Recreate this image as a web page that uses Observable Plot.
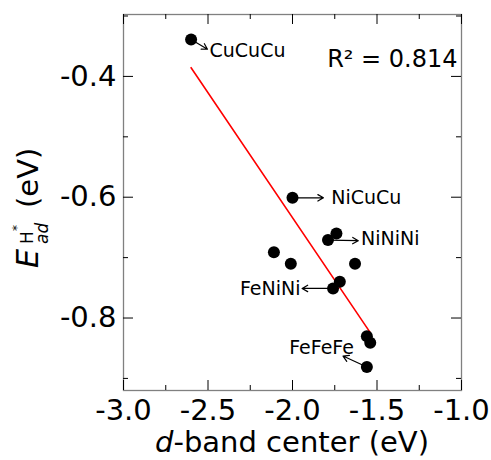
<!DOCTYPE html>
<html><head><meta charset="utf-8">
<script src="https://cdn.jsdelivr.net/npm/d3@7"></script>
<script src="https://cdn.jsdelivr.net/npm/@observablehq/plot@0.6"></script>
<style>
body{margin:0;background:#fff;}
svg{font-family:"DejaVu Sans",sans-serif;}
</style>
</head><body><div id="chart"></div>
<script>
// data points: d-band center (eV) vs E_ad^H* (eV)
const alloys = ["CuCuCu","NiCuCu","A3","NiNiNi","A5","A6","A7","A8","FeNiNi","A10","A11","FeFeFe"];
const dBandCenter = [-2.60,-2.00,-1.74,-1.79,-2.11,-2.01,-1.63,-1.72,-1.76,-1.56,-1.54,-1.56];
const hAdsEnergy  = [-0.339,-0.601,-0.660,-0.671,-0.691,-0.710,-0.710,-0.740,-0.751,-0.830,-0.841,-0.881];

// annotations (label, index of the point, arrow tip, label anchor position)
const annLabels   = ["CuCuCu","NiCuCu","NiNiNi","FeNiNi","FeFeFe"];
const annPoint    = [0, 1, 3, 8, 11];
const annTipX     = [-2.503,-1.817,-1.611,-1.943,-1.701];
const annTipY     = [-0.355,-0.601,-0.672,-0.751,-0.863];
const annTextX    = [-2.491,-1.771,-1.594,-1.953,-1.828];
const annTextY    = [-0.358,-0.601,-0.669,-0.751,-0.849];
const annAnchor   = ["start","start","start","end","middle"];

const r2Text = "R\u00b2 = 0.814";

// ticks
const xMajor = [-3.0,-2.5,-2.0,-1.5,-1.0];
const xMinor = [-2.75,-2.25,-1.75,-1.25];
const yMajor = [-0.4,-0.6,-0.8];
const yMinor = [-0.3,-0.5,-0.7,-0.9];

const points = alloys.map((name,i)=>({name, x: dBandCenter[i], y: hAdsEnergy[i]}));
const anns = annLabels.map((label,i)=>({
  label, x1: dBandCenter[annPoint[i]], y1: hAdsEnergy[annPoint[i]],
  x2: annTipX[i], y2: annTipY[i], tx: annTextX[i], ty: annTextY[i], anchor: annAnchor[i]
}));

const W = 491, H = 460, ML = 123, MR = 30, MT = 14, MB = 70;
const FW = W - ML - MR, FH = H - MT - MB;
const fmt = d => d.toFixed(1);
const fs = 29;

const chart = Plot.plot({
  width: W, height: H,
  marginLeft: ML, marginRight: MR, marginTop: MT, marginBottom: MB,
  style: {fontFamily: "DejaVu Sans", background: "white", color: "black"},
  x: {domain: [-3, -1]},
  y: {domain: [-0.92, -0.2975]},
  marks: [
    Plot.frame({stroke: "#808080", strokeWidth: 1.3}),
    // inward ticks, all four sides
    Plot.tickX(xMajor, {x: d => d, insetTop: FH - 10, stroke: "black"}),
    Plot.tickX(xMajor, {x: d => d, insetBottom: FH - 10, stroke: "black"}),
    Plot.tickX(xMinor, {x: d => d, insetTop: FH - 5, stroke: "black"}),
    Plot.tickX(xMinor, {x: d => d, insetBottom: FH - 5, stroke: "black"}),
    Plot.tickY(yMajor, {y: d => d, insetRight: FW - 10, stroke: "black"}),
    Plot.tickY(yMajor, {y: d => d, insetLeft: FW - 10, stroke: "black"}),
    Plot.tickY(yMinor, {y: d => d, insetRight: FW - 5, stroke: "black"}),
    Plot.tickY(yMinor, {y: d => d, insetLeft: FW - 5, stroke: "black"}),
    Plot.axisX({ticks: xMajor, tickSize: 0, tickPadding: 9, fontSize: fs, tickFormat: fmt, label: null}),
    Plot.axisY({ticks: yMajor, tickSize: 0, tickPadding: 7, fontSize: fs, tickFormat: fmt, label: null}),
    Plot.linearRegressionY(points, {x: "x", y: "y", stroke: "#ff0000", strokeWidth: 1.6, ci: 0}),
    Plot.arrow(anns, {x1: "x1", y1: "y1", x2: "x2", y2: "y2", stroke: "black", strokeWidth: 1.2, headLength: 8}),
    Plot.dot(points, {x: "x", y: "y", r: 6, fill: "black", stroke: null}),
    Plot.text(anns.filter(d => d.anchor === "start"), {x: "tx", y: "ty", text: "label", textAnchor: "start", fontSize: 19, fill: "black"}),
    Plot.text(anns.filter(d => d.anchor === "end"), {x: "tx", y: "ty", text: "label", textAnchor: "end", fontSize: 19, fill: "black"}),
    Plot.text(anns.filter(d => d.anchor === "middle"), {x: "tx", y: "ty", text: "label", textAnchor: "middle", fontSize: 19, fill: "black"}),
    Plot.text([r2Text], {text: d => d, frameAnchor: "top-right", dx: -4, dy: 35, fontSize: 24, fill: "black"})
  ]
});

const svg = d3.select(chart);
// x axis label with italic d
const xl = svg.append("text")
  .attr("x", ML + FW / 2).attr("y", 452)
  .attr("text-anchor", "middle").attr("font-size", 29).attr("fill", "black")
  .attr("font-family", "DejaVu Sans");
xl.append("tspan").attr("font-style", "italic").text("d");
xl.append("tspan").text("-band center (eV)");

// y axis label: E_ad^{H*} (eV), rotated
const yl = svg.append("text")
  .attr("transform", "translate(38,0) rotate(-90)")
  .attr("text-anchor", "start")
  .attr("fill", "black").attr("font-family", "DejaVu Sans");
yl.append("tspan").attr("x", -268).attr("y", 0).attr("font-size", 30).attr("font-style", "italic").text("E");
yl.append("tspan").attr("x", -244).attr("y", 10).attr("font-size", 17).attr("font-style", "italic").text("ad");
yl.append("tspan").attr("x", -244).attr("y", -5).attr("font-size", 17).text("H");
yl.append("tspan").attr("x", -231).attr("y", -17).attr("font-size", 12).text("*");
yl.append("tspan").attr("x", -208).attr("y", 0).attr("font-size", 29).text("(eV)");

document.getElementById("chart").appendChild(chart);
</script>
</body></html>
